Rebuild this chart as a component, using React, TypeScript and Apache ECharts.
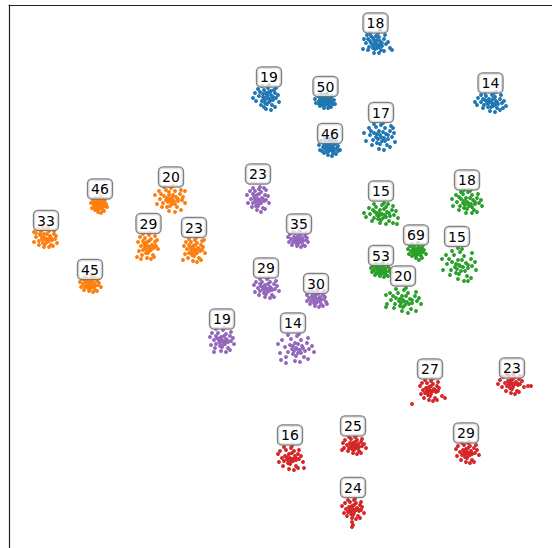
import React, { useEffect, useRef } from "react";
import * as echarts from "echarts";

// Each cluster: label value, centre (data coords), label anchor, point offsets [dx, dy, dx, dy, ...]
type Cluster = { label: number; cx: number; cy: number; lx: number; ly: number; pts: number[] };

const blueClusters: Cluster[] = [
  { label: 18, cx: 375, cy: 44, lx: 375.5, ly: 23, pts: [0,-1,3,1,-3,0,-1,-4,5,-3,-5,-3,2,4,-6,3,7,2,0,5,4,-7,-4,-8,9,-5,-9,-1,11,0,-2,2,1,-8,6,6,-7,6,13,-2,-12,5,3,-11,-5,-11,9,7,-1,9,15,4,-11,-5,10,-9,-8,-9,4,9,1,1,-4,-1,2,-4,7,-1,-2,4,4,3,-7,-5,5,-14,17,6,-2,-6,1,-2,5,0] },
  { label: 19, cx: 267, cy: 97, lx: 269, ly: 77, pts: [0,-1,3,2,-3,1,-1,-4,4,-2,-4,-3,2,5,-5,4,6,3,0,7,4,-6,-3,-7,8,-4,-8,-1,9,1,-2,3,1,-9,5,8,-6,8,11,-2,-11,4,2,-12,-5,-11,8,10,-1,12,12,5,-12,-4,9,-9,-9,-8,4,13,1,1,-4,0,2,-5,6,0,-2,6,3,4,-7,-5,-14,1,7,-7,0,-3,-3,10] },
  { label: 50, cx: 325, cy: 101, lx: 325.5, ly: 86.5, pts: [0,0,2,1,-2,1,-1,-2,3,-1,-3,-1,1,3,-4,2,5,2,0,4,3,-4,-3,-4,6,-3,-6,0,7,1,-1,2,1,-5,4,5,-5,5,9,-1,-9,2,2,-7,-4,-7,6,6,-1,7,10,3,-10,-2,7,-5,-7,-5,3,7,1,1,-3,0,1,-2,4,0,-2,4,3,3,-5,-3,0,-6,8,3,-6,3,2,-3,-1,-1,5,-1,-2,-4,0,2] },
  { label: 14, cx: 490, cy: 102, lx: 490.5, ly: 83, pts: [1,0,4,2,-3,1,-1,-3,6,-1,-5,-2,3,4,-6,3,8,2,1,5,5,-5,-4,-6,10,-3,-9,0,12,1,-2,2,2,-7,7,6,-7,6,14,-1,-13,3,4,-9,-5,-9,10,8,0,9,16,4,-12,-4,11,-7,-9,-7,5,10,2,1,-3,-1,3,-3,7,0,-2,5,5,3,-7,-3,-15,0,13,6,6,-10,-1,-1] },
  { label: 17, cx: 380, cy: 136, lx: 381, ly: 112.5, pts: [0,-1,4,2,-4,1,-1,-5,6,-2,-6,-3,2,5,-7,4,8,3,0,8,5,-8,-4,-9,10,-5,-10,-1,12,1,-2,3,1,-11,7,9,-8,9,14,-3,-14,5,3,-13,-6,-12,10,11,-1,13,15,6,-16,-3,11,-10,-11,-8,4,14,1,1,-3,-2,3,-4,8,-1,-3,7,5,5,-9,-5,13,-8] },
  { label: 46, cx: 329, cy: 147, lx: 330, ly: 133.5, pts: [0,0,2,1,-2,1,-1,-2,3,-1,-3,-2,1,3,-4,2,5,2,0,4,3,-5,-3,-5,6,-3,-6,0,8,1,-1,2,1,-6,4,6,-5,6,9,-1,-9,3,2,-8,-4,-8,7,7,-1,8,11,3,-10,-2,7,-6,-8,-6,3,9,1,1,-3,-1,1,-3,4,0,-2,5,3,3,-5,-3,0,-8,9,4,-7,4,6,-7,5,4] },
];

const orangeClusters: Cluster[] = [
  { label: 46, cx: 99, cy: 205, lx: 100, ly: 189, pts: [0,0,2,1,-2,1,-1,-2,3,-1,-3,-2,1,3,-4,2,4,2,0,4,2,-4,-2,-5,5,-3,-5,0,6,1,-1,2,1,-6,4,5,-4,5,7,-1,-7,3,1,-8,-4,-7,5,6,-1,7,8,2,-8,-2,6,-5,-6,-5,2,8,1,1,-3,-1,1,-3,3,0,-2,4,3,3,-5,-3,0,-4,4,-6] },
  { label: 20, cx: 170, cy: 200, lx: 171, ly: 177, pts: [0,-1,4,1,-4,0,-1,-5,6,-3,-6,-4,2,4,-7,3,8,1,0,6,5,-9,-4,-10,10,-6,-10,-1,12,0,-2,2,1,-12,7,7,-8,7,13,-3,-13,4,3,-14,-6,-13,11,10,-1,11,15,3,-15,-5,11,-10,-11,-9,5,12,1,1,-3,-2,3,-5,8,-1,-3,7,5,4,-9,-6,15,-9,-1,-8,2,-2] },
  { label: 33, cx: 46, cy: 238, lx: 46, ly: 220.5, pts: [-1,0,2,1,-4,1,-2,-4,4,-2,-6,-3,1,4,-7,3,6,2,-1,6,3,-7,-5,-7,8,-4,-10,-1,9,1,-3,2,0,-9,5,7,-7,7,10,-2,-12,4,2,-10,-8,-9,7,8,-2,9,11,5,-12,-6,8,-7,-10,-5,3,9,0,1,-4,-1,1,-4,5,0,-3,5,3,3,-6,-4,-3,-10] },
  { label: 29, cx: 148, cy: 245, lx: 148.5, ly: 223.5, pts: [0,1,2,3,-3,2,-1,-3,4,0,-4,-2,1,6,-5,5,6,3,0,8,3,-6,-3,-7,7,-3,-7,1,8,1,-2,4,1,-10,5,10,-6,10,9,-5,-9,6,2,-12,-5,-11,6,12,-1,13,10,4,-10,-3,7,-9,-8,-8,3,14,1,2,-3,0,1,-4,5,1,-2,8,3,5,-5,-4,-11,12,-7,14] },
  { label: 23, cx: 194, cy: 249, lx: 194, ly: 227.5, pts: [0,0,2,2,-3,1,-1,-3,4,-1,-4,-2,1,5,-5,4,6,2,0,7,3,-6,-3,-7,7,-4,-7,0,8,1,-2,3,1,-9,5,9,-6,9,9,-2,-9,5,2,-11,-5,-10,7,11,-1,12,11,4,-10,-3,8,-8,-8,-7,3,13,1,1,-3,-1,1,-4,5,0,-2,6,3,4,-5,-4,10,-9,-11,11] },
  { label: 45, cx: 90, cy: 284, lx: 90, ly: 269.5, pts: [0,0,2,1,-3,1,-1,-2,4,-1,-4,-2,1,3,-5,3,5,2,0,5,3,-5,-3,-5,7,-3,-7,0,8,1,-2,2,1,-7,5,6,-6,6,9,-1,-9,3,2,-8,-5,-7,7,7,-1,7,11,3,-10,-2,8,-5,-8,-5,3,8,1,1,-3,-1,1,-3,4,0,-2,4,3,3,-5,-3,5,-6] },
];

const purpleClusters: Cluster[] = [
  { label: 23, cx: 258, cy: 198, lx: 258, ly: 174, pts: [0,1,2,3,-3,2,-1,-3,4,0,-4,-2,1,6,-5,5,6,3,0,8,3,-6,-3,-7,7,-3,-7,1,8,2,-2,4,1,-9,5,10,-6,9,10,-2,-10,5,2,-11,-5,-10,7,11,-1,12,11,5,-11,-3,8,-8,-8,-7,3,14,1,2,-3,0,1,-4,5,1,-2,8,3,5,-5,-4,6,-10] },
  { label: 35, cx: 298, cy: 239, lx: 299, ly: 224, pts: [0,0,2,1,-3,1,-1,-2,4,-1,-4,-2,1,3,-5,3,5,2,0,5,3,-5,-3,-6,7,-3,-7,0,8,1,-2,2,1,-7,5,6,-6,6,9,-1,-9,3,2,-8,-5,-7,7,7,-1,7,10,3,-10,-2,8,-6,-8,-5,3,8,1,1,-3,-1,1,-3,4,0,-2,4,3,3] },
  { label: 29, cx: 266, cy: 288, lx: 266, ly: 268, pts: [0,0,3,1,-3,1,-1,-3,4,-1,-5,-2,1,4,-6,3,6,2,0,6,4,-6,-4,-6,8,-4,-8,0,9,1,-2,2,1,-9,6,7,-7,7,11,-2,-11,4,2,-10,-6,-9,8,9,-1,9,13,3,-12,-3,10,-7,-10,-6,4,10,1,1,-3,-1,2,-4,5,0,-2,5,3,3,-6,-4] },
  { label: 30, cx: 316, cy: 298, lx: 316, ly: 283.5, pts: [0,0,2,1,-3,1,-1,-3,4,-1,-4,-2,1,4,-5,3,5,2,0,5,3,-5,-3,-6,7,-3,-7,0,8,1,-2,2,1,-8,5,6,-6,6,9,-1,-9,3,2,-9,-5,-8,7,8,-1,8,10,4,-9,-3,8,-7,-8,-6,3,9,1,1,-3,-1,1,-4,4,0,-2,5,3,3,11,6] },
  { label: 19, cx: 222, cy: 341, lx: 222, ly: 319, pts: [0,-1,3,1,-3,0,-1,-4,4,-2,-5,-3,1,4,-6,3,6,1,0,6,4,-7,-4,-8,8,-5,-8,-1,9,0,-2,2,1,-11,6,7,-7,7,11,-3,-11,4,2,-13,-6,-12,8,9,-1,10,12,3,-12,-4,9,-9,-10,-8,4,11,1,0,-3,-2,2,-5,5,-1,-2,5,3,3,-6,-5,-8,11] },
  { label: 14, cx: 294, cy: 348, lx: 293, ly: 323, pts: [2,0,6,2,-2,1,1,-5,8,-2,-4,-3,4,5,-6,4,11,3,2,8,7,-8,-3,-9,13,-5,-9,-1,15,1,0,3,3,-12,10,9,-8,9,18,-2,-14,5,5,-14,-6,-13,14,11,1,13,20,4,-16,-4,14,-10,-12,-8,6,14,3,1,-1,-2,4,-4,9,0,-1,6,7,5,-8,15,-13,12] },
];

const greenClusters: Cluster[] = [
  { label: 15, cx: 381, cy: 213, lx: 381, ly: 191, pts: [0,1,4,2,-4,2,-1,-3,6,-1,-6,-1,2,5,-7,5,9,3,0,7,5,-6,-5,-6,11,-3,-11,1,13,2,-2,3,1,-8,8,8,-9,8,15,-2,-15,4,3,-10,-7,-9,12,10,-1,10,17,5,-17,0,12,-7,-12,-5,5,11,1,1,-3,0,3,-4,8,0,-3,6,5,4,-8,-3,16,11,7,-9] },
  { label: 18, cx: 467, cy: 203, lx: 467, ly: 180, pts: [0,-1,4,1,-4,0,-1,-5,6,-3,-6,-4,2,3,-7,3,8,1,0,6,5,-8,-4,-9,10,-5,-10,-1,12,0,-2,2,1,-11,7,7,-8,7,14,-3,-14,3,3,-12,-6,-11,10,9,-1,10,15,3,-15,-4,11,-9,-11,-8,5,10,1,0,-3,-2,3,-5,8,-1,-3,5,5,4,-8,-6,-3,-13] },
  { label: 69, cx: 416, cy: 251, lx: 416, ly: 235, pts: [1,0,3,1,-1,1,0,-2,4,-1,-2,-2,2,3,-3,2,5,2,1,4,3,-4,-2,-5,6,-3,-5,0,7,1,0,2,2,-6,5,5,-4,5,8,-1,-7,3,2,-8,-4,-7,6,7,0,7,10,3,-8,-2,7,-6,-6,-5,3,9,2,1,-1,-1,2,-3,4,0,-1,4,4,3,-3,-3,1,-1,3,-2,0,1,-2,0] },
  { label: 15, cx: 459, cy: 265, lx: 457, ly: 236.5, pts: [0,0,4,2,-4,2,-1,-5,7,-2,-7,-3,2,6,-8,5,9,3,0,9,5,-9,-5,-10,12,-6,-12,-1,13,1,-2,4,1,-13,8,11,-9,10,16,-3,-16,5,3,-16,-7,-14,12,13,-1,14,17,5,-17,-6,13,-12,-13,-10,5,16,1,1,-3,-1,3,-5,9,0,-3,8,6,6,-10,-6,-1,-17,9,16] },
  { label: 53, cx: 381, cy: 270, lx: 381, ly: 255.5, pts: [0,0,2,1,-3,1,-1,-2,4,-1,-4,-2,1,3,-5,3,5,2,0,4,3,-4,-3,-5,7,-3,-7,0,8,1,-2,2,1,-6,5,5,-6,5,9,-1,-9,2,2,-7,-5,-6,7,6,-1,6,10,3,-10,-2,7,-5,-8,-4,3,7,1,1,-3,-1,1,-3,4,0,-2,4,3,3,-5,-3] },
  { label: 20, cx: 403, cy: 300, lx: 403, ly: 276, pts: [0,0,4,2,-4,1,-1,-4,7,-1,-7,-2,2,5,-8,4,9,3,0,7,5,-7,-5,-7,12,-4,-12,0,14,1,-2,3,1,-10,8,9,-9,8,16,-2,-16,4,3,-12,-7,-11,13,11,-1,11,18,4,-17,-5,13,-8,-13,-7,5,13,1,1,-3,-1,3,-4,9,0,-3,6,6,4,-10,-4,-17,7] },
];

const redClusters: Cluster[] = [
  { label: 27, cx: 430, cy: 390, lx: 430, ly: 369, pts: [0,0,3,1,-3,1,-1,-3,4,-1,-4,-2,1,4,-5,3,6,2,0,6,3,-6,-3,-7,7,-4,-7,0,8,1,-2,2,1,-9,5,8,-6,8,9,-2,-9,4,2,-11,-5,-10,7,10,-1,10,12,6,-10,-4,8,-8,-8,-7,3,11,1,1,-3,-1,1,-4,5,0,-2,5,15,8,-18,14] },
  { label: 23, cx: 512, cy: 383, lx: 512, ly: 368, pts: [0,0,3,1,-3,1,-1,-3,4,-1,-4,-2,1,4,-5,3,6,2,0,6,3,-6,-3,-7,7,-4,-7,0,8,1,-2,2,1,-9,5,8,-6,8,10,-2,-10,4,2,-10,-5,-9,7,9,-1,10,12,4,-12,-3,8,-7,-9,-6,3,11,1,1,-3,-1,1,-4,5,0,-2,5,16,3,19,3,-14,1] },
  { label: 16, cx: 290, cy: 458, lx: 290, ly: 435, pts: [0,0,3,1,-3,1,-1,-4,5,-2,-5,-2,1,4,-6,3,6,2,0,6,4,-7,-4,-8,8,-4,-8,0,9,1,-2,2,1,-10,6,8,-7,8,11,-2,-11,4,2,-12,-6,-11,8,10,-1,11,13,4,-12,-4,9,-8,-10,-7,4,12,1,1,-3,-1,2,-5,6,0,-2,5,3,3,14,10] },
  { label: 25, cx: 353, cy: 445, lx: 353, ly: 426, pts: [1,0,3,1,-2,1,0,-2,5,-1,-3,-2,2,3,-4,3,6,2,1,5,4,-5,-2,-6,8,-3,-6,0,9,1,-1,2,2,-8,6,6,-5,6,11,-1,-9,3,3,-9,-4,-8,8,8,0,8,13,3,-10,-2,9,-6,-8,-5,4,9,2,1,-2,-1,2,-3,5,0,-1,4,4,3,-11,5] },
  { label: 29, cx: 466, cy: 452, lx: 466, ly: 433, pts: [1,0,3,1,-2,1,0,-3,5,-1,-3,-2,2,4,-4,3,6,2,1,6,4,-6,-2,-7,8,-4,-6,0,9,1,-1,2,2,-9,6,8,-5,8,11,-2,-9,4,3,-10,-4,-9,8,10,0,10,13,3,-10,-3,10,-7,-8,-6,4,11,2,1,-2,-1,2,-4,5,0,-1,5,4,3] },
  { label: 24, cx: 353, cy: 510, lx: 353, ly: 487.5, pts: [0,-1,3,0,-3,0,-1,-4,4,-2,-4,-3,1,3,-5,2,6,1,0,5,3,-7,-3,-8,7,-5,-7,-1,8,0,-2,1,1,-10,5,6,-6,6,9,-3,-9,3,2,-11,-5,-10,7,8,-1,8,11,3,-11,-4,8,-8,-8,-7,3,9,1,0,-3,-2,1,-5,5,-1,-2,4,-1,12,0,15,-1,17] },
];

const groups = [
  { name: "blue", color: "#1f77b4", clusters: blueClusters },
  { name: "orange", color: "#ff7f0e", clusters: orangeClusters },
  { name: "green", color: "#2ca02c", clusters: greenClusters },
  { name: "red", color: "#d62728", clusters: redClusters },
  { name: "purple", color: "#9467bd", clusters: purpleClusters },
];

function pointsOf(clusters: Cluster[]): number[][] {
  const out: number[][] = [];
  for (const c of clusters) {
    for (let i = 0; i + 1 < c.pts.length; i += 2) {
      out.push([c.cx + c.pts[i], c.cy + c.pts[i + 1]]);
    }
  }
  return out;
}

export default function App() {
  const ref = useRef<HTMLDivElement>(null);
  useEffect(() => {
    if (!ref.current) return;
    const chart = echarts.init(ref.current, undefined, { renderer: "svg" });
    const labelData: any[] = [];
    groups.forEach((g) => g.clusters.forEach((c) => labelData.push([c.lx, c.ly, c.label])));
    const series: any[] = groups.map((g) => ({
      name: g.name,
      type: "scatter",
      data: pointsOf(g.clusters),
      symbolSize: 3.9,
      itemStyle: { color: g.color, opacity: 1 },
      silent: true,
      z: 2,
    }));
    series.push({
      name: "labels",
      type: "scatter",
      data: labelData,
      symbolSize: 1,
      itemStyle: { color: "rgba(0,0,0,0)" },
      z: 5,
      silent: true,
      label: {
        show: true,
        position: "inside",
        formatter: (p: any) => String(p.value[2]),
        fontFamily: "DejaVu Sans",
        fontSize: 14,
        fontWeight: "normal",
        lineHeight: 16,
        color: "#000000",
        opacity: 1,
        textBorderWidth: 0,
        backgroundColor: "rgba(255,255,255,0.72)",
        borderColor: "rgba(115,115,115,0.9)",
        borderWidth: 1.3,
        borderRadius: 4,
        padding: [2, 3, 1, 3],
      },
    });
    chart.setOption({
      animation: false,
      grid: { left: 9, top: 5, right: 0, bottom: 0 },
      xAxis: {
        type: "value",
        position: "top",
        min: 9,
        max: 552,
        axisLine: { show: true, onZero: false, lineStyle: { color: "#222", width: 1.2 } },
        axisTick: { show: false },
        axisLabel: { show: false },
        splitLine: { show: false },
      },
      yAxis: {
        type: "value",
        inverse: true,
        min: 5,
        max: 548,
        axisLine: { show: true, onZero: false, lineStyle: { color: "#222", width: 1.2 } },
        axisTick: { show: false },
        axisLabel: { show: false },
        splitLine: { show: false },
      },
      series,
    });
    return () => chart.dispose();
  }, []);
  return (
    <div
      ref={ref}
      style={{ position: "absolute", left: 0, top: 0, width: 552, height: 548, background: "#fff" }}
    />
  );
}
